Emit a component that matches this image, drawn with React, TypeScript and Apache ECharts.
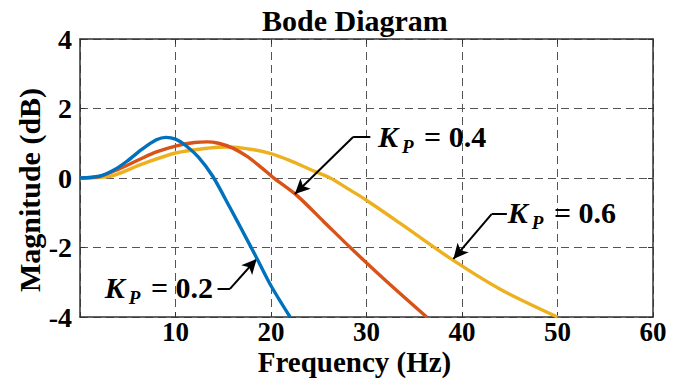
import React, { useEffect, useRef } from "react";
import * as echarts from "echarts";

// ---- data ----
const xTickValues = [10, 20, 30, 40, 50, 60];
const yTickValues = [-4, -2, 0, 2, 4];

const freqKp02 = [0, 2, 3.5, 5, 6.5, 8, 9, 10, 11, 12.4, 13.9, 15.7, 17, 18.5, 20, 22];
const magKp02 = [0, 0.05, 0.22, 0.5, 0.83, 1.1, 1.17, 1.12, 0.95, 0.6, 0.05, -0.85, -1.52, -2.3, -3.1, -4];

const freqKp04 = [0, 2, 4, 6.5, 8, 10, 12, 13.3, 14.5, 16, 17.5, 19, 20.2, 22.7, 25.5, 28.3, 32, 36.3];
const magKp04 = [0, 0.04, 0.25, 0.57, 0.75, 0.92, 1.02, 1.04, 1.0, 0.86, 0.62, 0.3, 0.02, -0.5, -1.25, -2.0, -2.95, -4];

const freqKp06 = [0, 3, 6.5, 10, 13.4, 15.5, 18, 20, 22, 24, 26.2, 28.3, 30, 33.5, 38.7, 44, 50];
const magKp06 = [0, 0.04, 0.4, 0.72, 0.86, 0.89, 0.82, 0.7, 0.5, 0.26, 0, -0.35, -0.64, -1.3, -2.3, -3.2, -4];

const seriesNames = ["K_P = 0.2", "K_P = 0.4", "K_P = 0.6"];
const kpValues = ["0.2", "0.4", "0.6"];
const colors = ["#0072BD", "#D95319", "#EDB120"];

// annotation anchors (data coordinates): text start, leader start, elbow, arrow tip
const labelPos = [
  [2.6, -3.14],
  [31.2, 1.18],
  [44.8, -1.0],
];
const leaderStart = [
  [14.4, -3.19],
  [30.4, 1.18],
  [44.7, -1.04],
];
const leaderElbow = [
  [15.7, -3.19],
  [28.6, 1.18],
  [43.1, -1.04],
];
const arrowTip = [
  [18.5, -2.33],
  [22.5, -0.46],
  [39.1, -2.33],
];

const FONT = '"Liberation Serif", "Times New Roman", serif';

function pairs(xs: number[], ys: number[]) {
  return xs.map((x, i) => [x, ys[i]]);
}

export default function App() {
  const ref = useRef<HTMLDivElement>(null);

  useEffect(() => {
    if (!ref.current) return;
    const chart = echarts.init(ref.current, undefined, { renderer: "svg" });

    const dataSets = [
      pairs(freqKp02, magKp02),
      pairs(freqKp04, magKp04),
      pairs(freqKp06, magKp06),
    ];

    const axisColor = "#333";
    const gridLine = { show: true, lineStyle: { color: "#555", width: 1, type: [8, 5] as any } };

    const series = dataSets.map((d, i) => ({
      name: seriesNames[i],
      type: "line",
      data: d,
      smooth: 0.3,
      showSymbol: false,
      symbol: "none",
      lineStyle: { color: colors[i], width: 3.4 },
      itemStyle: { color: colors[i] },
      z: 5 - i,
      markLine: {
        silent: true,
        symbol: ["none", "arrow"],
        symbolSize: [11, 15],
        label: { show: false },
        lineStyle: { color: "#000", width: 2, type: "solid" },
        emphasis: { disabled: true },
        data: [
          [
            { coord: leaderStart[i], symbol: "none" },
            { coord: leaderElbow[i], symbol: "none" },
          ],
          [
            { coord: leaderElbow[i], symbol: "none" },
            { coord: arrowTip[i], symbol: "arrow" },
          ],
        ],
      },
      markPoint: {
        silent: true,
        symbol: "circle",
        symbolSize: 0,
        itemStyle: { color: "transparent" },
        data: [
          {
            coord: labelPos[i],
            label: {
              show: true,
              position: "inside",
              align: "left",
              verticalAlign: "middle",
              formatter: "{k|K}{p|P}{e| = " + kpValues[i] + "}",
              rich: {
                k: { fontFamily: FONT, fontSize: 30, fontWeight: "bold", fontStyle: "italic", color: "#000", lineHeight: 32 },
                p: {
                  fontFamily: FONT,
                  fontSize: 19,
                  fontWeight: "bold",
                  fontStyle: "italic",
                  color: "#000",
                  lineHeight: 19,
                  padding: [20, 3, 0, 4],
                },
                e: { fontFamily: FONT, fontSize: 30, fontWeight: "bold", color: "#000", lineHeight: 32 },
              },
            },
          },
        ],
      },
    }));

    chart.setOption({
      animation: false,
      backgroundColor: "#fff",
      title: {
        text: "Bode Diagram",
        left: 257,
        top: 0,
        textStyle: { fontFamily: FONT, fontSize: 30, fontWeight: "bold", color: "#000" },
      },
      grid: {
        left: 80,
        right: 42,
        top: 39,
        bottom: 63,
        containLabel: false,
        outerBoundsMode: "none",
        show: false,
      },
      xAxis: [
        {
          type: "value",
          min: 0,
          max: 60,
          interval: 10,
          name: "Frequency (Hz)",
          nameLocation: "middle",
          nameGap: 31,
          nameMoveOverlap: false,
          nameTextStyle: {
            fontFamily: FONT,
            fontSize: 29,
            lineHeight: 28,
            fontWeight: "bold",
            color: "#000",
            padding: [0, 24, 0, 0],
          },
          axisLine: { show: true, onZero: false, lineStyle: { color: axisColor, width: 1.5 } },
          axisTick: { show: true, inside: true, length: 5, lineStyle: { color: axisColor } },
          axisLabel: {
            margin: 2,
            fontFamily: FONT,
            fontSize: 27,
            lineHeight: 26,
            fontWeight: "bold",
            color: "#000",
            formatter: (v: number) => (xTickValues.includes(v) ? String(v) : ""),
          },
          splitLine: gridLine,
        },
        {
          type: "value",
          position: "top",
          min: 0,
          max: 60,
          interval: 10,
          axisLine: { show: true, onZero: false, lineStyle: { color: axisColor, width: 1.5 } },
          axisTick: { show: true, inside: true, length: 5, lineStyle: { color: axisColor } },
          axisLabel: { show: false },
          splitLine: { show: false },
        },
      ],
      yAxis: [
        {
          type: "value",
          min: -4,
          max: 4,
          interval: 2,
          name: "Magnitude (dB)",
          nameLocation: "middle",
          nameGap: 36,
          nameMoveOverlap: false,
          nameTextStyle: {
            fontFamily: FONT,
            fontSize: 30,
            fontWeight: "bold",
            color: "#000",
            padding: [0, 24, 0, 0],
          },
          axisLine: { show: true, onZero: false, lineStyle: { color: axisColor, width: 1.5 } },
          axisTick: { show: true, inside: true, length: 5, lineStyle: { color: axisColor } },
          axisLabel: {
            margin: 8,
            fontFamily: FONT,
            fontSize: 28,
            fontWeight: "bold",
            color: "#000",
            formatter: (v: number) => (yTickValues.includes(v) ? String(v) : ""),
          },
          splitLine: gridLine,
        },
        {
          type: "value",
          position: "right",
          min: -4,
          max: 4,
          interval: 2,
          axisLine: { show: true, onZero: false, lineStyle: { color: axisColor, width: 1.5 } },
          axisTick: { show: true, inside: true, length: 5, lineStyle: { color: axisColor } },
          axisLabel: { show: false },
          splitLine: { show: false },
        },
      ],
      series,
    });

    return () => chart.dispose();
  }, []);

  return (
    <div
      ref={ref}
      style={{ position: "fixed", left: 0, top: 0, width: 695, height: 380, background: "#fff" }}
    />
  );
}
